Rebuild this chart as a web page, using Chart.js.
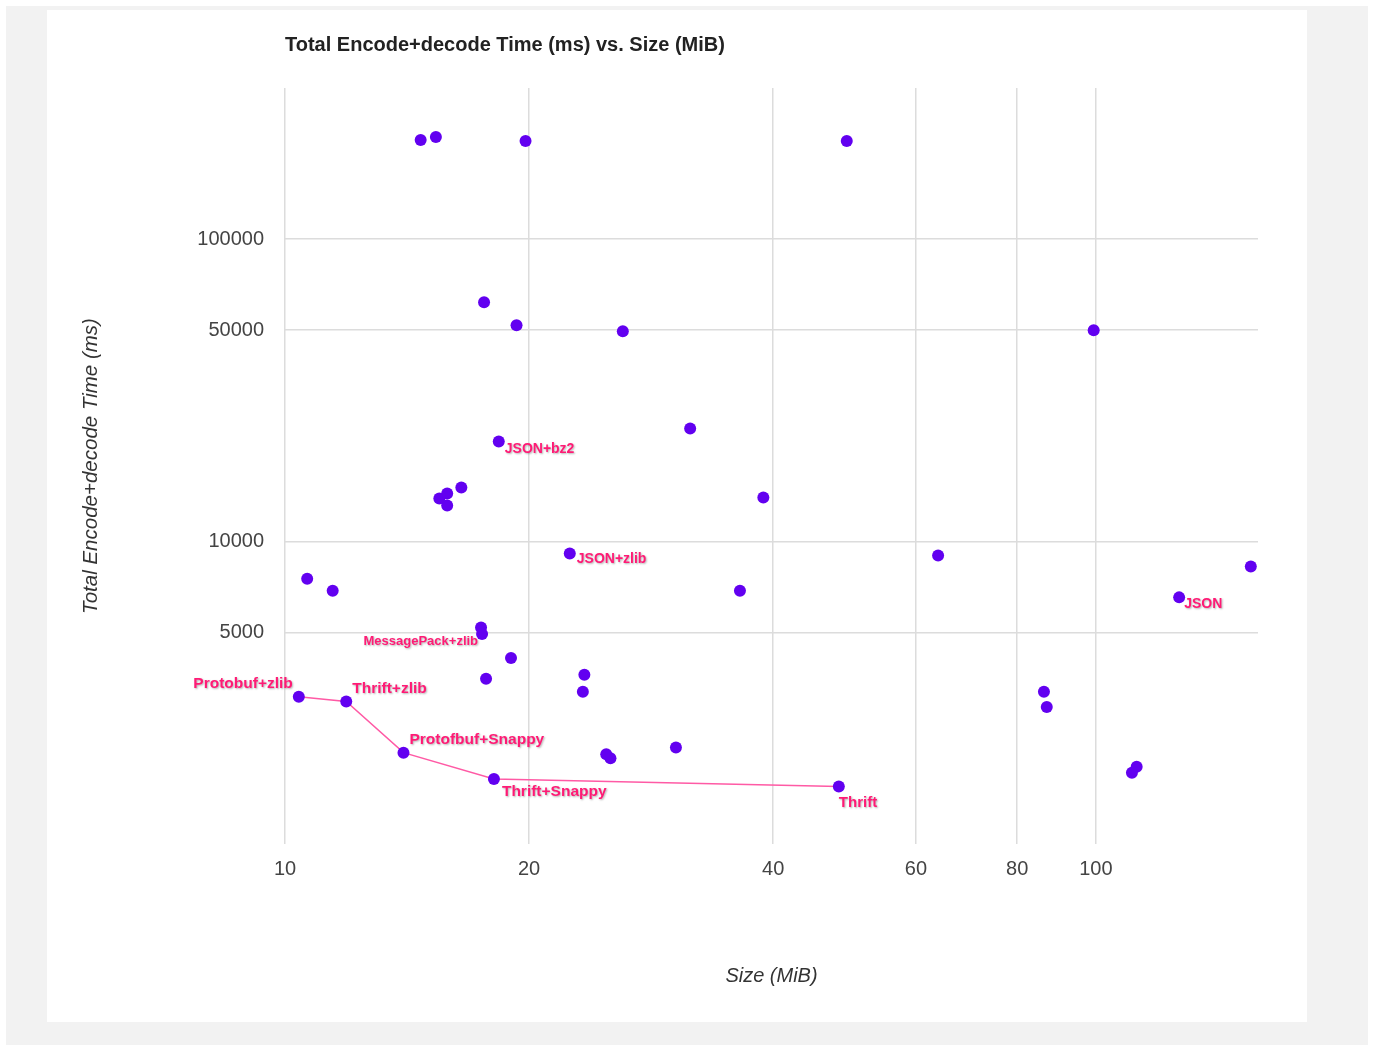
<!DOCTYPE html>
<html>
<head>
<meta charset="utf-8">
<script src="https://cdn.jsdelivr.net/npm/chart.js@4.4.1/dist/chart.umd.min.js"></script>
<style>
  body { margin: 0; background: #fff; }
  #frame { position: absolute; left: 6px; top: 6px; width: 1362px; height: 1039px; background: #f2f2f2; }
  #panel { position: absolute; left: 47px; top: 10px; width: 1260px; height: 1012px; background: #fff; }
  #sizeChart { position: absolute; left: 0; top: 0; }
</style>
</head>
<body>
<div id="frame"></div>
<div id="panel"></div>
<canvas id="sizeChart" width="1373" height="1045"></canvas>
<script>
// Size (MiB) and total encode+decode time (ms) for each format/compression combo
const sizeMiB = [14.7, 15.35, 19.8, 49.3, 17.6, 19.3, 26.1, 99.4, 31.6, 18.35,
                 16.5, 15.5, 15.85, 15.85, 38.9, 22.45, 63.9, 155.3, 10.65, 11.45,
                 36.4, 126.7, 17.45, 17.5, 19.0, 23.4, 17.7, 23.3, 86.3, 87.0,
                 10.4, 11.9, 14.0, 18.1, 48.2, 24.9, 25.2, 30.35, 112.3, 110.8];
const timeMs = [212800, 217600, 211100, 211100, 61850, 51900, 49600, 49960, 23670, 21440,
                15090, 13880, 14420, 13160, 13980, 9130, 8990, 8280, 7540, 6880,
                6880, 6540, 5200, 4950, 4120, 3630, 3520, 3190, 3190, 2840,
                3070, 2960, 2005, 1640, 1550, 1980, 1920, 2085, 1800, 1720];

// named points (index into the arrays above)
const labelNames = ['JSON+bz2', 'JSON+zlib', 'JSON', 'MessagePack+zlib', 'Protobuf+zlib',
                    'Thrift+zlib', 'Protofbuf+Snappy', 'Thrift+Snappy', 'Thrift'];
const labelIdx = [9, 15, 21, 23, 30, 31, 32, 33, 34];

// points joined by the pink line
const frontierIdx = [30, 31, 32, 33, 34];

const xTicks = [10, 20, 40, 60, 80, 100];
const yTicks = [5000, 10000, 50000, 100000];

const chartTitle = 'Total Encode+decode Time (ms) vs. Size (MiB)';

// label placement relative to its point
const labelStyle = {
    'JSON+bz2':         { dx: 6,  dy: 8,   align: 'left',  size: 14 },
    'JSON+zlib':        { dx: 7,  dy: 6,   align: 'left',  size: 14 },
    'JSON':             { dx: 5,  dy: 7,   align: 'left',  size: 14 },
    'MessagePack+zlib': { dx: -4, dy: 7,   align: 'right', size: 13 },
    'Protobuf+zlib':    { dx: -6, dy: -13, align: 'right', size: 15.5 },
    'Thrift+zlib':      { dx: 6,  dy: -13, align: 'left',  size: 15.5 },
    'Protofbuf+Snappy': { dx: 6,  dy: -13, align: 'left',  size: 15.5 },
    'Thrift+Snappy':    { dx: 8,  dy: 13,  align: 'left',  size: 15.5 },
    'Thrift':           { dx: 0,  dy: 16,  align: 'left',  size: 15 }
};

const FONT = '"Liberation Sans", Arial, Helvetica, sans-serif';

const pointLabels = {
    id: 'pointLabels',
    afterDatasetsDraw(chart) {
        const ctx = chart.ctx;
        const xs = chart.scales.x, ys = chart.scales.y;
        ctx.save();
        ctx.fillStyle = '#ff1a75';
        ctx.textBaseline = 'middle';
        ctx.shadowColor = 'rgba(0,0,0,0.3)';
        ctx.shadowBlur = 2;
        ctx.shadowOffsetX = 1;
        ctx.shadowOffsetY = 1;
        labelNames.forEach((name, i) => {
            const k = labelIdx[i];
            const st = labelStyle[name];
            ctx.font = 'bold ' + st.size + 'px ' + FONT;
            ctx.textAlign = st.align;
            ctx.fillText(name, xs.getPixelForValue(sizeMiB[k]) + st.dx, ys.getPixelForValue(timeMs[k]) + st.dy);
        });
        ctx.restore();

        // chart title, aligned with the plot's left edge
        ctx.save();
        ctx.font = 'bold 20px ' + FONT;
        ctx.fillStyle = '#222';
        ctx.textAlign = 'left';
        ctx.textBaseline = 'middle';
        ctx.fillText(chartTitle, chart.chartArea.left, 45);
        ctx.restore();
    }
};

document.addEventListener('DOMContentLoaded', function() {
    const ctx = document.getElementById('sizeChart');

    const scatterData = sizeMiB.map((x, i) => ({ x: x, y: timeMs[i] }));
    const lineData = frontierIdx.map(k => ({ x: sizeMiB[k], y: timeMs[k] }));

    new Chart(ctx, {
        type: 'scatter',
        data: {
            datasets: [
                {
                    type: 'line',
                    data: lineData,
                    borderColor: '#ff5aa5',
                    borderWidth: 1.5,
                    pointRadius: 0,
                    fill: false,
                    tension: 0,
                    order: 2
                },
                {
                    data: scatterData,
                    backgroundColor: '#6200f0',
                    borderColor: '#6200f0',
                    pointRadius: 6,
                    pointBorderWidth: 0,
                    order: 1
                }
            ]
        },
        options: {
            responsive: false,
            animation: false,
            devicePixelRatio: 1,
            layout: { padding: { left: 79, top: 88, right: 115, bottom: 0 } },
            plugins: {
                legend: { display: false },
                tooltip: { enabled: false }
            },
            scales: {
                x: {
                    type: 'logarithmic',
                    min: 10,
                    max: 158.5,
                    afterBuildTicks: s => { s.ticks = xTicks.map(v => ({ value: v })); },
                    afterFit: s => { s.height = 201; },
                    border: { display: false },
                    grid: { color: '#dcdcdc', lineWidth: 1.5, drawTicks: false },
                    ticks: {
                        padding: 13,
                        color: '#444',
                        font: { family: FONT, size: 20 },
                        maxRotation: 0,
                        autoSkip: false,
                        callback: v => String(v)
                    },
                    title: {
                        display: true,
                        text: 'Size (MiB)',
                        color: '#333',
                        font: { family: FONT, size: 20, style: 'italic' },
                        padding: { top: 57, bottom: 57 }
                    }
                },
                y: {
                    type: 'logarithmic',
                    min: 1000,
                    max: 316228,
                    afterBuildTicks: s => { s.ticks = yTicks.map(v => ({ value: v })); },
                    afterFit: s => { s.width = 206; },
                    border: { display: false },
                    grid: { color: '#dcdcdc', lineWidth: 1.5, drawTicks: false },
                    ticks: {
                        padding: 21,
                        color: '#444',
                        font: { family: FONT, size: 20 },
                        autoSkip: false,
                        callback: v => String(v)
                    },
                    title: {
                        display: true,
                        text: 'Total Encode+decode Time (ms)',
                        color: '#333',
                        font: { family: FONT, size: 20.5, style: 'italic' },
                        padding: { top: 0, bottom: 0 }
                    }
                }
            }
        },
        plugins: [pointLabels]
    });
});
</script>
</body>
</html>
